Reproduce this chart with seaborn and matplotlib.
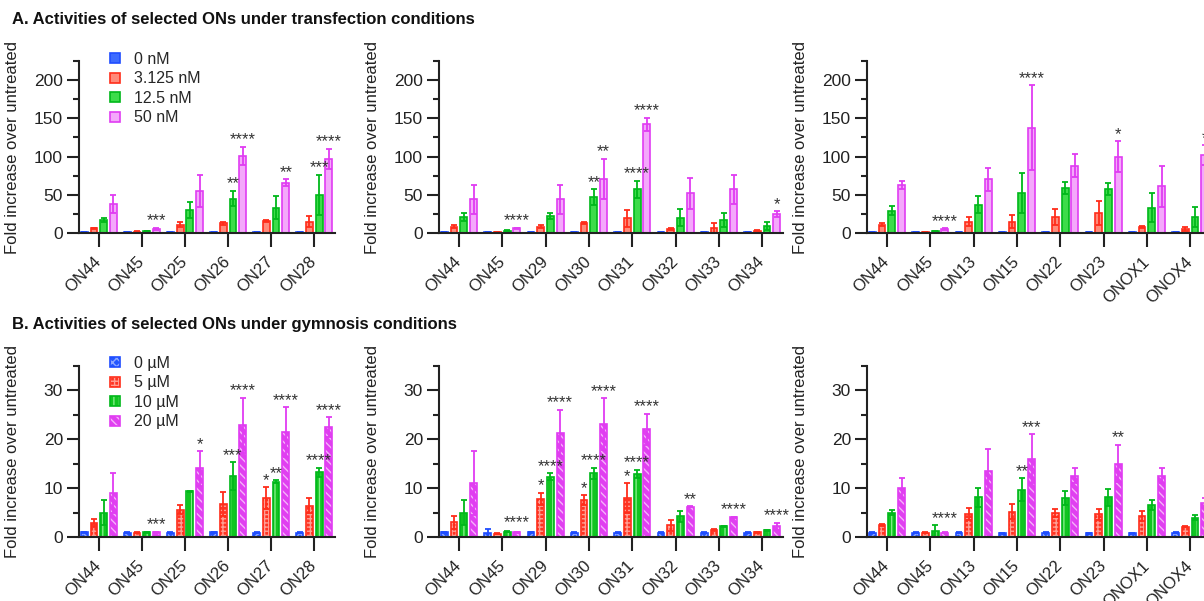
import numpy as np
import pandas as pd
import matplotlib
matplotlib.use("Agg")
import matplotlib.pyplot as plt
import seaborn as sns
from matplotlib.patches import Patch, Rectangle
from matplotlib.ticker import MultipleLocator

sns.set_style("ticks")
plt.rcParams["font.family"] = ["Liberation Sans", "DejaVu Sans"]
plt.rcParams["hatch.linewidth"] = 1.0

# ---------------- data ----------------
conc_nM = ["0 nM", "3.125 nM", "12.5 nM", "50 nM"]
conc_uM = ["0 µM", "5 µM", "10 µM", "20 µM"]

cats_1 = ["ON44", "ON45", "ON25", "ON26", "ON27", "ON28"]
cats_2 = ["ON44", "ON45", "ON29", "ON30", "ON31", "ON32", "ON33", "ON34"]
cats_3 = ["ON44", "ON45", "ON13", "ON15", "ON22", "ON23", "ONOX1", "ONOX4"]

# Panel A (transfection), means per concentration
A1_mean = [[1, 1, 1, 1, 1, 1],
           [6, 1.5, 11, 13, 16, 15],
           [17, 2.5, 30, 45, 33, 50],
           [38, 5.5, 55, 101, 66, 97]]
A1_sd = [[0.3, 0.3, 0.3, 0.3, 0.3, 0.3],
         [1, 0.5, 3, 2, 1, 7],
         [2, 0.5, 10, 10, 15, 26],
         [12, 1.5, 21, 12, 4, 13]]
A1_stars = [(1, 3, "***"), (3, 2, "**"), (3, 3, "****"), (4, 3, "**"),
            (5, 2, "***"), (5, 3, "****")]

A2_mean = [[1, 1, 1, 1, 1, 1, 1, 1],
           [8, 1, 8, 13, 19, 5, 6, 3],
           [21, 3, 22, 47, 57, 20, 17, 9],
           [44, 6, 44, 71, 142, 52, 57, 25]]
A2_sd = [[0.3] * 8,
         [2, 0.3, 2, 1, 11, 1, 7, 1],
         [5, 0.5, 4, 10, 11, 11, 9, 5],
         [19, 1, 19, 26, 9, 20, 19, 3.5]]
A2_stars = [(1, 3, "****"), (3, 2, "**"), (3, 3, "**"), (4, 2, "****"),
            (4, 3, "****"), (7, 3, "*")]

A3_mean = [[1, 1, 1, 1, 1, 1, 1, 1],
           [11, 1, 15, 15, 21, 26, 8, 5],
           [29, 2, 37, 52, 59, 58, 33, 21],
           [63, 5, 70, 138, 88, 100, 61, 102]]
A3_sd = [[0.3] * 8,
         [2, 0.3, 6, 9, 11, 16, 1, 3],
         [6, 0.5, 11, 26, 8, 8, 19, 13],
         [5, 1, 15, 55, 15, 20, 27, 13]]
A3_stars = [(1, 3, "****"), (3, 3, "****"), (5, 3, "*"), (7, 3, "*")]

# Panel B (gymnosis)
B1_mean = [[1, 0.9, 0.9, 1, 0.9, 0.9],
           [2.8, 0.9, 5.6, 6.7, 8, 6.4],
           [5, 1, 9.3, 12.5, 11.3, 13.2],
           [9, 1, 14, 22.8, 21.4, 22.5]]
B1_sd = [[0.1] * 6,
         [0.8, 0.1, 0.9, 2.5, 2.2, 1.5],
         [2.5, 0.1, 0.2, 2.8, 0.3, 1],
         [4, 0.1, 3.5, 5.7, 5.1, 2]]
B1_stars = [(1, 3, "***"), (2, 3, "*"), (3, 2, "***"), (3, 3, "****"),
            (4, 1, "*"), (4, 2, "**"), (4, 3, "****"), (5, 2, "****"),
            (5, 3, "****")]

B2_mean = [[1, 0.8, 1, 0.9, 0.9, 0.9, 0.9, 0.9],
           [3, 0.7, 7.8, 7.5, 8, 2.4, 1.4, 1],
           [5, 1.1, 12.3, 13, 12.9, 4.2, 2.2, 1.4],
           [11, 1, 21.3, 23, 22, 6.2, 4, 2.2]]
B2_sd = [[0.1, 0.8, 0.1, 0.1, 0.1, 0.1, 0.1, 0.1],
         [1.3, 0.1, 1.2, 1, 3, 1.1, 0.2, 0.1],
         [2.6, 0.1, 0.7, 1.2, 0.8, 1.1, 0.1, 0.1],
         [6.5, 0.1, 4.7, 5.3, 3.2, 0.1, 0.1, 0.7]]
B2_stars = [(1, 3, "****"), (2, 1, "*"), (2, 2, "****"), (2, 3, "****"),
            (3, 1, "*"), (3, 2, "****"), (3, 3, "****"), (4, 1, "*"),
            (4, 2, "****"), (4, 3, "****"), (5, 3, "**"), (6, 3, "****"),
            (7, 3, "****")]

B3_mean = [[0.9, 0.9, 0.9, 0.8, 0.9, 0.8, 0.8, 0.9],
           [2.5, 0.9, 4.7, 5.2, 4.9, 4.6, 4.3, 2.1],
           [5, 1.2, 8.1, 9.7, 8, 8.1, 6.6, 3.9],
           [10, 0.9, 13.5, 16, 12.5, 15, 12.5, 7]]
B3_sd = [[0.1] * 8,
         [0.2, 0.1, 1.3, 1.5, 0.9, 1.2, 1, 0.1],
         [0.5, 1.2, 1.9, 2.3, 1.5, 1.7, 1, 0.5],
         [2, 0.1, 4.5, 5, 1.5, 3.8, 1.5, 1]]
B3_stars = [(1, 3, "****"), (3, 2, "**"), (3, 3, "***"), (5, 3, "**")]

title_A = "A. Activities of selected ONs under transfection conditions"
title_B = "B. Activities of selected ONs under gymnosis conditions"
ylabel = "Fold increase over untreated"

# ---------------- styles ----------------
edge_cols = ["#1f4dff", "#ff2d1a", "#00b81a", "#e03cf2"]
fill_top = ["#3d6bff", "#ff8a7a", "#3ddc4a", "#f4a8fb"]
sat_bot = ["#2356ff", "#ff3422", "#10c520", "#e040f0"]
light_bot = ["#8fa8ff", "#ff9d92", "#80ec86", "#f6b0fb"]
hatches = ["xxxx", "++++", "|||", "\\\\\\\\"]

W, H = 1204, 601
fig = plt.figure(figsize=(W / 100, H / 100), dpi=100)


def add_ax(x0, w, ytop, ybot):
    return fig.add_axes([x0 / W, 1 - ybot / H, w / W, (ybot - ytop) / H])


def panel(ax, cats, concs, means, sds, stars, ymax, major, hatched, lab_x,
          star_off):
    rows = []
    for h, conc in enumerate(concs):
        for i, c in enumerate(cats):
            rows.append({"ON": c, "conc": conc, "value": means[h][i]})
    df = pd.DataFrame(rows)
    pal = dict(zip(concs, edge_cols))
    sns.barplot(data=df, x="ON", y="value", hue="conc", order=cats,
                hue_order=concs, palette=pal, errorbar=None, width=0.9,
                gap=0.3, ax=ax, legend=False, zorder=2)
    pal_rgb = [np.array(matplotlib.colors.to_rgb(c)) for c in edge_cols]
    centers = {}
    for cont in ax.containers:
        fc = np.array(cont.patches[0].get_facecolor()[:3])
        h = int(np.argmin([np.sum((fc - c) ** 2) for c in pal_rgb]))
        for p in cont.patches:
            xc = p.get_x() + p.get_width() / 2
            i = int(round(xc))
            centers[(i, h)] = xc
            if hatched:
                p.set_facecolor(sat_bot[h])
                p.set_edgecolor(light_bot[h])
                p.set_hatch(hatches[h])
                p.set_linewidth(0)
                ax.add_patch(Rectangle((p.get_x(), p.get_y()), p.get_width(),
                                       p.get_height(), fill=False,
                                       edgecolor=edge_cols[h], lw=1.2,
                                       zorder=2.2))
            else:
                p.set_facecolor(fill_top[h])
                p.set_edgecolor(edge_cols[h])
                p.set_linewidth(1.2)
    for h in range(len(concs)):
        xs = [centers[(i, h)] for i in range(len(cats))]
        m = np.array(means[h], float)
        s = np.array(sds[h], float)
        lower = np.minimum(s, m)
        ax.errorbar(xs, m, yerr=[lower, s], fmt="none", ecolor=edge_cols[h],
                    elinewidth=1.3, capsize=2.5, capthick=1.3, zorder=3)
    for (i, h, txt) in stars:
        top = max(means[k][i] + sds[k][i] for k in range(h + 1))
        ax.annotate(txt, (centers[(i, h)], top), xytext=(0, star_off),
                    textcoords="offset points", ha="center", va="center",
                    fontsize=12, color="#333333", annotation_clip=False)
    n = len(cats)
    ax.set_xlim(-0.46, n - 1 + 0.48)
    ax.set_ylim(0, ymax)
    ax.yaxis.set_major_locator(MultipleLocator(major))
    ax.yaxis.set_minor_locator(MultipleLocator(major / 2))
    ax.set_xticks(range(n))
    ax.set_xticklabels(cats, rotation=45, ha="right", va="center",
                       rotation_mode="anchor")
    ax.set_xlabel("")
    ax.set_ylabel(ylabel, fontsize=12, color="#222222")
    ax.yaxis.set_label_coords(lab_x, 0.5)
    for s in ["top", "right"]:
        ax.spines[s].set_visible(False)
    for s in ["left", "bottom"]:
        ax.spines[s].set_linewidth(1.5)
        ax.spines[s].set_color("#222222")
        ax.spines[s].set_zorder(4)
    ax.tick_params(axis="y", which="major", length=8.5, width=1.5, pad=3,
                   labelsize=12.5, color="#222222", labelcolor="#222222")
    ax.tick_params(axis="y", which="minor", length=4.5, width=1.5,
                   color="#222222")
    ax.tick_params(axis="x", which="major", length=10, width=1.5, pad=9,
                   labelsize=12, color="#222222", labelcolor="#222222")
    ax.set_facecolor("none")
    ax.grid(False)


# axes positions (pixels): left col, middle col, right col
cols = [(79, 256, -0.23), (439, 344, -0.1715), (867, 344, -0.1715)]
top_rows = (61, 233)
bot_rows = (365.7, 537)

A_sets = [(cats_1, A1_mean, A1_sd, A1_stars), (cats_2, A2_mean, A2_sd, A2_stars),
          (cats_3, A3_mean, A3_sd, A3_stars)]
B_sets = [(cats_1, B1_mean, B1_sd, B1_stars), (cats_2, B2_mean, B2_sd, B2_stars),
          (cats_3, B3_mean, B3_sd, B3_stars)]

axA, axB = [], []
for (x0, w, lx), (cats, m, s, st) in zip(cols, A_sets):
    ax = add_ax(x0, w, *top_rows)
    panel(ax, cats, conc_nM, m, s, st, 225, 50, False, lx, 5)
    axA.append(ax)
for (x0, w, lx), (cats, m, s, st) in zip(cols, B_sets):
    ax = add_ax(x0, w, *bot_rows)
    panel(ax, cats, conc_uM, m, s, st, 35, 10, True, lx, 5)
    axB.append(ax)

# legends
leg_kw = dict(bbox_transform=fig.transFigure, frameon=False, fontsize=11.5,
              handlelength=0.6, handleheight=0.6, handletextpad=0.9,
              labelspacing=0.28, borderpad=0, borderaxespad=0,
              loc="upper left")
hA = [Patch(facecolor=fill_top[h], edgecolor=edge_cols[h], lw=1.2)
      for h in range(4)]
axA[0].legend(hA, conc_nM, bbox_to_anchor=(110 / W, 1 - 52 / H), **leg_kw)
hB = [(Patch(facecolor=sat_bot[h], edgecolor=light_bot[h], hatch=hatches[h],
             lw=0),
       Patch(fill=False, edgecolor=edge_cols[h], lw=1.2)) for h in range(4)]
axB[0].legend(hB, conc_uM, bbox_to_anchor=(110 / W, 1 - 356 / H), **leg_kw)

fig.text(12 / W, 1 - 20 / H, title_A, fontsize=12, fontweight="bold",
         ha="left", va="center", color="#111111")
fig.text(12 / W, 1 - 325 / H, title_B, fontsize=12, fontweight="bold",
         ha="left", va="center", color="#111111")

fig.savefig("out.png", dpi=100)
